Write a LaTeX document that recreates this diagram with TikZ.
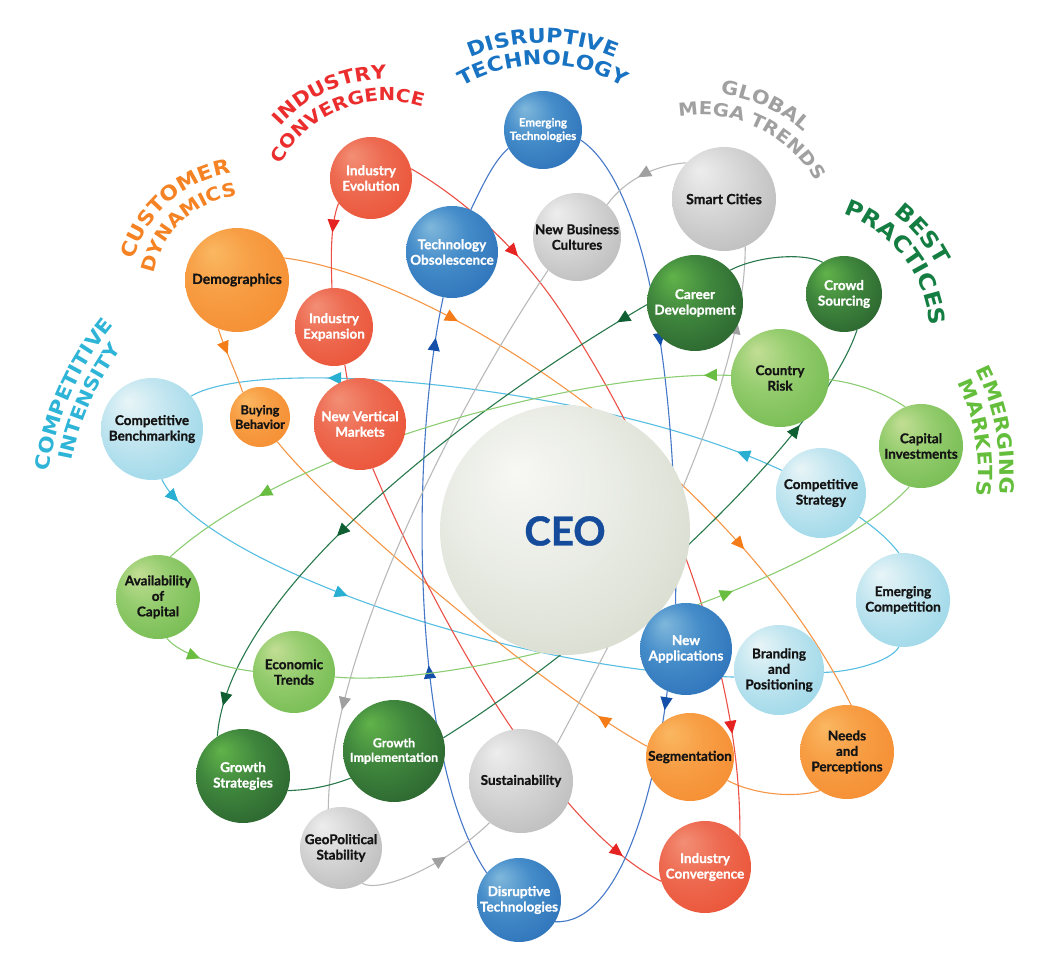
\documentclass[tikz,border=0pt]{standalone}
\usepackage{fontspec}
\setmainfont{Lato}[BoldFeatures={FakeBold=0.9}]
\newfontfamily\headfont[FakeStretch=1.1]{DejaVu Sans}
\usetikzlibrary{arrows.meta,decorations.markings,decorations.text}
\pgfdeclarelayer{bg}
\pgfsetlayers{bg,main}

\definecolor{ciLine}{RGB}{85,190,225}
\definecolor{ciArr}{RGB}{40,175,210}
\definecolor{cdLine}{RGB}{245,150,70}
\definecolor{cdArr}{RGB}{245,125,25}
\definecolor{icLine}{RGB}{235,80,70}
\definecolor{icArr}{RGB}{230,35,35}
\definecolor{dtLine}{RGB}{70,120,200}
\definecolor{dtArr}{RGB}{20,80,170}
\definecolor{gmLine}{RGB}{185,185,185}
\definecolor{gmArr}{RGB}{160,160,160}
\definecolor{bpLine}{RGB}{40,120,75}
\definecolor{bpArr}{RGB}{15,95,50}
\definecolor{emLine}{RGB}{140,205,115}
\definecolor{emArr}{RGB}{105,190,65}

\definecolor{hdBlue}{RGB}{25,115,195}
\definecolor{hdRed}{RGB}{235,45,45}
\definecolor{hdOrange}{RGB}{245,130,35}
\definecolor{hdCyan}{RGB}{45,180,215}
\definecolor{hdGray}{RGB}{160,160,160}
\definecolor{hdDkGreen}{RGB}{20,125,65}
\definecolor{hdGreen}{RGB}{100,190,60}
\definecolor{ceoBlue}{RGB}{20,75,155}
\definecolor{txtDark}{RGB}{20,20,20}

\pgfdeclareradialshading{sBlue}{\pgfpoint{-12bp}{14bp}}{rgb(0bp)=(0.50,0.72,0.86); rgb(16bp)=(0.27,0.55,0.79); rgb(36bp)=(0.17,0.44,0.72); rgb(50bp)=(0.10,0.35,0.65)}
\pgfdeclareradialshading{sLtBlue}{\pgfpoint{-12bp}{14bp}}{rgb(0bp)=(0.91,0.96,0.97); rgb(16bp)=(0.76,0.90,0.94); rgb(36bp)=(0.60,0.84,0.91); rgb(50bp)=(0.47,0.78,0.88)}
\pgfdeclareradialshading{sGray}{\pgfpoint{-12bp}{14bp}}{rgb(0bp)=(0.93,0.93,0.93); rgb(16bp)=(0.84,0.84,0.84); rgb(36bp)=(0.73,0.73,0.73); rgb(50bp)=(0.60,0.60,0.60)}
\pgfdeclareradialshading{sRed}{\pgfpoint{-12bp}{14bp}}{rgb(0bp)=(0.95,0.56,0.46); rgb(16bp)=(0.93,0.42,0.32); rgb(36bp)=(0.92,0.32,0.21); rgb(50bp)=(0.90,0.24,0.13)}
\pgfdeclareradialshading{sOrange}{\pgfpoint{-12bp}{14bp}}{rgb(0bp)=(0.98,0.72,0.38); rgb(16bp)=(0.97,0.62,0.27); rgb(36bp)=(0.96,0.55,0.19); rgb(50bp)=(0.94,0.48,0.13)}
\pgfdeclareradialshading{sDkGreen}{\pgfpoint{-12bp}{14bp}}{rgb(0bp)=(0.38,0.70,0.29); rgb(16bp)=(0.25,0.53,0.24); rgb(36bp)=(0.16,0.38,0.18); rgb(50bp)=(0.10,0.25,0.14)}
\pgfdeclareradialshading{sGreen}{\pgfpoint{-12bp}{14bp}}{rgb(0bp)=(0.76,0.87,0.58); rgb(16bp)=(0.58,0.80,0.43); rgb(36bp)=(0.45,0.73,0.31); rgb(50bp)=(0.31,0.64,0.22)}
\pgfdeclareradialshading{sCeo}{\pgfpoint{-10bp}{12bp}}{rgb(0bp)=(0.97,0.97,0.96); rgb(18bp)=(0.91,0.92,0.89); rgb(38bp)=(0.83,0.85,0.79); rgb(50bp)=(0.70,0.74,0.66)}

\newcommand\archead[8]{%
  \path[decorate,decoration={text along path,text align=center,
    text={|\headfont\bfseries\fontsize{#8}{#8}\selectfont\color{#6}|#7}}]
    (#1,#2) ++({-(#3+#5)}:#4) arc[start angle={-(#3+#5)},end angle={-(#3-#5)},radius=#4];}

\begin{document}
\begin{tikzpicture}[x=1pt,y=-1pt,
  sph/.style={circle,inner sep=0pt,minimum size=#1},
  lbl/.style={align=center,inner sep=0pt,font=\bfseries\fontsize{13.5}{15.5}\selectfont},
  lblM/.style={align=center,inner sep=0pt,font=\bfseries\fontsize{12.5}{14.5}\selectfont},
  lblS/.style={align=center,inner sep=0pt,font=\bfseries\fontsize{11.5}{13.5}\selectfont},
  wt/.style={text=white},
  dk/.style={text=txtDark},
  conn/.style={line width=1.1pt},
  ciL/.style={conn,draw=ciLine},
  cdL/.style={conn,draw=cdLine},
  icL/.style={conn,draw=icLine},
  dtL/.style={conn,draw=dtLine},
  gmL/.style={conn,draw=gmLine},
  bpL/.style={conn,draw=bpLine},
  emL/.style={conn,draw=emLine},
  midarrow/.style 2 args={postaction={decorate,decoration={markings,
     mark=at position #1 with {\arrow{Triangle[length=13pt,width=12pt,color=#2]}}}}}
]
\useasboundingbox (0,0) rectangle (1052,968);

% ---------- spheres ----------
\node[sph=250pt,shading=sCeo] (ceo) at (565,530) {};
\node[sph=78pt,shading=sBlue] (emtech) at (543,130) {};
\node[sph=92pt,shading=sBlue] (techobs) at (452,252) {};
\node[sph=88pt,shading=sGray] (nbc) at (577,237) {};
\node[sph=104pt,shading=sGray] (smart) at (724,199) {};
\node[sph=82pt,shading=sRed] (indevo) at (371,178) {};
\node[sph=78pt,shading=sRed] (indexp) at (334,327) {};
\node[sph=92pt,shading=sRed] (nvm) at (360,424) {};
\node[sph=104pt,shading=sOrange] (demo) at (237,280) {};
\node[sph=60pt,shading=sOrange] (buying) at (260,417) {};
\node[sph=102pt,shading=sLtBlue] (compbench) at (152,429) {};
\node[sph=96pt,shading=sDkGreen] (career) at (695,303) {};
\node[sph=76pt,shading=sDkGreen] (crowd) at (844,294) {};
\node[sph=98pt,shading=sGreen] (country) at (780,378) {};
\node[sph=84pt,shading=sGreen] (capinv) at (921,446) {};
\node[sph=90pt,shading=sLtBlue] (compstrat) at (821,493) {};
\node[sph=94pt,shading=sLtBlue] (emcomp) at (903,600) {};
\node[sph=84pt,shading=sGreen] (avail) at (158,597) {};
\node[sph=82pt,shading=sGreen] (econ) at (294,672) {};
\node[sph=94pt,shading=sDkGreen] (growstrat) at (243,776) {};
\node[sph=102pt,shading=sDkGreen] (growimpl) at (394,751) {};
\node[sph=92pt,shading=sBlue] (newapps) at (686,649) {};
\node[sph=90pt,shading=sLtBlue] (branding) at (779,670) {};
\node[sph=88pt,shading=sOrange] (segm) at (690,757) {};
\node[sph=94pt,shading=sOrange] (needs) at (847,752) {};
\node[sph=104pt,shading=sGray] (sust) at (521,781) {};
\node[sph=82pt,shading=sGray] (geo) at (341,848) {};
\node[sph=84pt,shading=sBlue] (disrupt) at (519,900) {};
\node[sph=92pt,shading=sRed] (indconv) at (705,867) {};

\coordinate (r3m) at (560,310);

% ---------- connectors ----------
\begin{pgfonlayer}{bg}
% competitive intensity
\draw[ciL,midarrow={0.08}{ciArr},midarrow={0.77}{ciArr}] (compstrat.150) .. controls (600,385) and (260,355) .. (compbench.40);
\draw[ciL,midarrow={0.045}{ciArr},midarrow={0.36}{ciArr}] (compbench.-79) .. controls (200,560) and (500,670) .. (branding.189);
\draw[ciL] (branding.-3) .. controls (850,672) and (890,662) .. (emcomp.-95);
\draw[ciL] (emcomp.95) .. controls (885,535) and (870,525) .. (compstrat.-32);
% customer dynamics
\draw[cdL,midarrow={0.4}{cdArr}] (demo.-111) .. controls (225,350) and (236,372) .. (buying.125);
\draw[cdL,midarrow={0.12}{cdArr}] (segm.166) .. controls (560,700) and (340,520) .. (buying.-55);
\draw[cdL,midarrow={0.25}{cdArr},midarrow={0.745}{cdArr}] (demo.25) .. controls (450,280) and (740,480) .. (needs.85);
\draw[cdL] (segm.-32) .. controls (755,795) and (795,798) .. (needs.-125);
% industry convergence
\draw[icL,midarrow={0.35}{icArr}] (indevo.-142) .. controls (330,225) and (331,260) .. (indexp.93);
\draw[icL] (indexp.-74) -- (nvm.106);
\draw[icL,midarrow={0.91}{icArr}] (nvm.-74) .. controls (420,580) and (540,820) .. (indconv.198);
\draw[icL,midarrow={0.18}{icArr},midarrow={0.866}{icArr}] (indevo.13) .. controls (465,200) and (520,250) .. (r3m) .. controls (640,430) and (742,640) .. (indconv.41);
% disruptive technology
\draw[dtL,midarrow={0.466}{dtArr}] (emtech.-15) .. controls (640,180) and (678,350) .. (newapps.103);
\draw[dtL,midarrow={0.07}{dtArr}] (newapps.-114) .. controls (655,790) and (620,925) .. (disrupt.-31);
\draw[dtL,midarrow={0.37}{dtArr},midarrow={0.93}{dtArr}] (disrupt.140) .. controls (410,760) and (410,450) .. (techobs.-101);
\draw[dtL] (techobs.66) .. controls (485,180) and (495,160) .. (emtech.208);
% global mega trends
\draw[gmL,midarrow={0.55}{gmArr}] (smart.136) .. controls (655,165) and (625,180) .. (nbc.47);
\draw[gmL,midarrow={0.83}{gmArr}] (nbc.-131) .. controls (460,400) and (330,650) .. (geo.108);
\draw[gmL,midarrow={0.62}{gmArr}] (geo.-59) .. controls (378,893) and (440,870) .. (sust.-127);
\draw[gmL,midarrow={0.86}{gmArr}] (sust.46) .. controls (650,570) and (745,380) .. (smart.-66);
% best practices
\draw[bpL] (crowd.124) .. controls (805,253) and (760,255) .. (career.43);
\draw[bpL,midarrow={0.055}{bpArr},midarrow={0.62}{bpArr},midarrow={0.95}{bpArr}] (career.-178) .. controls (500,390) and (230,580) .. (growstrat.123);
\draw[bpL] (growstrat.-18) .. controls (310,790) and (330,786) .. (growimpl.-148);
\draw[bpL,midarrow={0.81}{bpArr}] (growimpl.15) .. controls (600,640) and (820,440) .. (crowd.-70);
% emerging markets
\draw[emL] (capinv.112) .. controls (880,390) and (850,382) .. (country.-2);
\draw[emL,midarrow={0.045}{emArr},midarrow={0.82}{emArr}] (country.177) .. controls (600,370) and (300,440) .. (avail.73);
\draw[emL,midarrow={0.42}{emArr}] (avail.-78) .. controls (180,655) and (225,668) .. (econ.179);
\draw[emL,midarrow={0.665}{emArr}] (econ.-7) .. controls (480,690) and (820,585) .. (capinv.-106);
\end{pgfonlayer}

% ---------- sphere texts ----------
\node[font=\bfseries\fontsize{40}{40}\selectfont,text=ceoBlue] (ceo-t) at (565,531) {CEO};
\node[lblS,wt] (emtech-t) at (emtech) {Emerging\\Technologies};
\node[lbl,wt] (techobs-t) at (techobs) {Technology\\Obsolescence};
\node[lbl,dk] (nbc-t) at (nbc) {New Business\\Cultures};
\node[lbl,dk,font=\bfseries\fontsize{14}{16}\selectfont] (smart-t) at (smart) {Smart Cities};
\node[lbl,wt] (indevo-t) at (indevo) {Industry\\Evolution};
\node[lbl,wt] (indexp-t) at (indexp) {Industry\\Expansion};
\node[lbl,wt] (nvm-t) at (nvm) {New Vertical\\Markets};
\node[lbl,dk,font=\bfseries\fontsize{14}{16}\selectfont] (demo-t) at (demo) {Demographics};
\node[lblM,dk] (buying-t) at (buying) {Buying\\Behavior};
\node[lbl,dk] (compbench-t) at (compbench) {Competitive\\Benchmarking};
\node[lbl,wt] (career-t) at (career) {Career\\Development};
\node[lbl,wt] (crowd-t) at (crowd) {Crowd\\Sourcing};
\node[lbl,dk] (country-t) at (country) {Country\\Risk};
\node[lbl,dk] (capinv-t) at (capinv) {Capital\\Investments};
\node[lbl,dk] (compstrat-t) at (compstrat) {Competitive\\Strategy};
\node[lbl,dk] (emcomp-t) at (emcomp) {Emerging\\Competition};
\node[lbl,dk] (avail-t) at (avail) {Availability\\of\\Capital};
\node[lbl,dk] (econ-t) at (econ) {Economic\\Trends};
\node[lbl,wt] (growstrat-t) at (growstrat) {Growth\\Strategies};
\node[lblM,wt] (growimpl-t) at (growimpl) {Growth\\Implementation};
\node[lbl,wt] (newapps-t) at (newapps) {New\\Applications};
\node[lbl,dk] (branding-t) at (branding) {Branding\\and\\Positioning};
\node[lbl,dk] (segm-t) at (segm) {Segmentation};
\node[lbl,dk] (needs-t) at (needs) {Needs\\and\\Perceptions};
\node[lbl,dk] (sust-t) at (sust) {Sustainability};
\node[lbl,dk] (geo-t) at (geo) {GeoPolitical\\Stability};
\node[lbl,wt] (disrupt-t) at (disrupt) {Disruptive\\Technologies};
\node[lbl,wt] (indconv-t) at (indconv) {Industry\\Convergence};

% ---------- headings ----------
\archead{543}{225}{90}{182}{50}{hdBlue}{DISRUPTIVE}{20}
\archead{543}{225}{90}{160}{55}{hdBlue}{TECHNOLOGY}{20}
\archead{386}{221}{114}{142}{70}{hdRed}{INDUSTRY}{19}
\archead{386}{221}{112}{120}{75}{hdRed}{CONVERGENCE}{18}
\archead{250}{293}{131.5}{121}{75}{hdOrange}{CUSTOMER}{20}
\archead{250}{293}{133}{98}{80}{hdOrange}{DYNAMICS}{18.5}
\archead{337}{512}{156}{291}{40}{hdCyan}{COMPETITIVE}{19.5}
\archead{337}{512}{156}{270}{40}{hdCyan}{INTENSITY}{19}
\archead{701}{247}{65.4}{154}{60}{hdGray}{GLOBAL}{19}
\archead{701}{247}{64.6}{132}{70}{hdGray}{MEGA TRENDS}{18}
\archead{802}{335}{40}{152}{50}{hdDkGreen}{BEST}{22}
\archead{802}{335}{37.5}{128}{70}{hdDkGreen}{PRACTICES}{22}
\archead{774}{472}{10.6}{226}{40}{hdGreen}{EMERGING}{19.5}
\archead{774}{472}{9.6}{204}{40}{hdGreen}{MARKETS}{19.5}
\end{tikzpicture}
\end{document}
